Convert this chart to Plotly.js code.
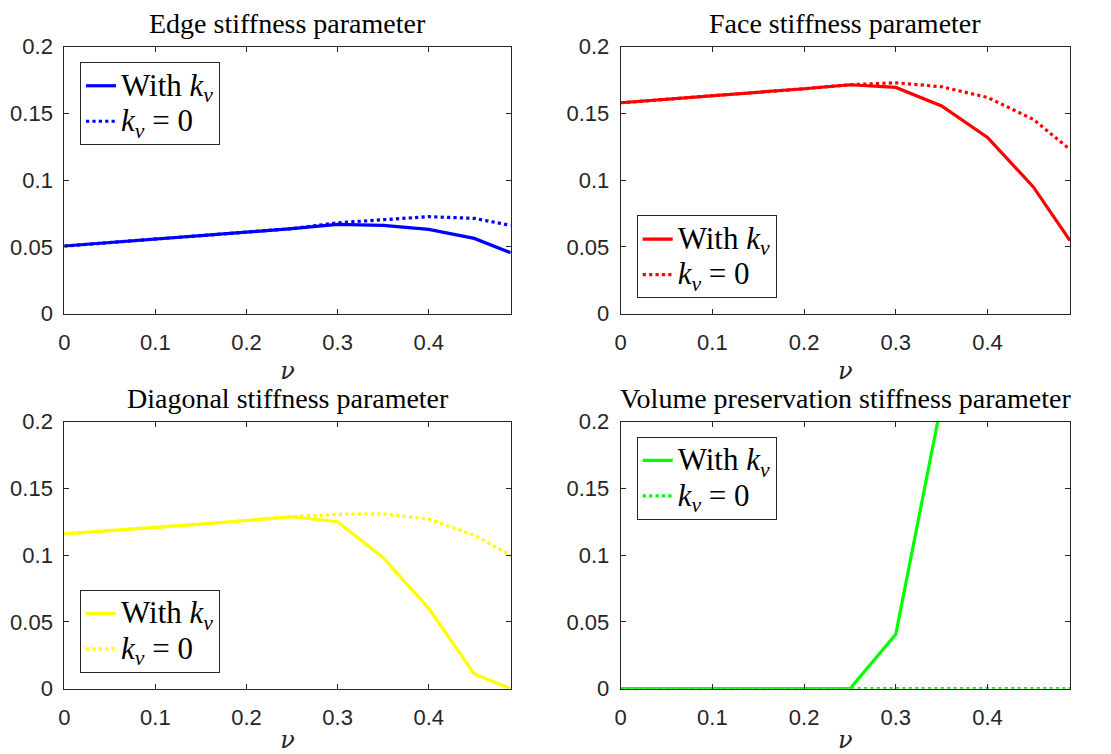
<!DOCTYPE html>
<html><head><meta charset="utf-8">
<script src="https://cdn.plot.ly/plotly-3.0.1.min.js"></script>
<style>html,body{margin:0;padding:0;background:#fff}</style>
</head><body>
<div id="chart" style="width:1111px;height:754px"></div>
<script>
// Poisson ratio samples
const nu = [0, 0.05, 0.1, 0.15, 0.2, 0.25, 0.3, 0.35, 0.4, 0.45, 0.49];

// Edge stiffness parameter
const edgeWithKv = [0.0507, 0.0532, 0.0557, 0.0582, 0.0607, 0.0637, 0.0669, 0.0662, 0.0632, 0.0564, 0.0457];
const edgeKv0    = [0.0507, 0.0532, 0.0557, 0.0582, 0.0607, 0.0637, 0.0681, 0.0705, 0.0727, 0.0714, 0.0662];

// Face stiffness parameter
const faceWithKv = [0.158, 0.1605, 0.163, 0.1657, 0.1685, 0.1715, 0.1695, 0.1556, 0.132, 0.095, 0.0547];
const faceKv0    = [0.158, 0.1605, 0.163, 0.1657, 0.1685, 0.1715, 0.173, 0.170, 0.162, 0.1456, 0.123];

// Diagonal stiffness parameter
const diagWithKv = [0.1159, 0.1182, 0.1206, 0.1233, 0.126, 0.1288, 0.1251, 0.0981, 0.0602, 0.011, 0];
const diagKv0    = [0.1159, 0.1182, 0.1206, 0.1233, 0.126, 0.1288, 0.1306, 0.131, 0.127, 0.115, 0.100];

// Volume preservation stiffness parameter (values beyond 0.35 are off-chart)
const volWithKv = [0, 0, 0, 0, 0, 0, 0.0407, 0.215, null, null, null];
const volKv0    = [0, 0, 0, 0, 0, 0, 0, 0, 0, 0, 0];

const panelTitles = ['Edge stiffness parameter', 'Face stiffness parameter',
                     'Diagonal stiffness parameter', 'Volume preservation stiffness parameter'];
const legendNames = ['With <i>k</i><sub><i>v</i></sub>', '<i>k</i><sub><i>v</i></sub> = 0'];
const xTitle = '<i>ν</i>';

const W = 1111, H = 754;
const px = v => v / W, py = v => 1 - v / H;
const bigText = s => '<span style="font-size:31px">' + s + '</span>';

const panels = [
  {withKv: edgeWithKv, kv0: edgeKv0, color: '#0000FF', ax: '',  leg: 'legend',  box: [64.3, 510.7, 46.7, 313.7]},
  {withKv: faceWithKv, kv0: faceKv0, color: '#FF0000', ax: '2', leg: 'legend2', box: [620.7, 1070, 46.7, 313.7]},
  {withKv: diagWithKv, kv0: diagKv0, color: '#FFFF00', ax: '3', leg: 'legend3', box: [64.3, 510.7, 421.7, 688.7]},
  {withKv: volWithKv,  kv0: volKv0,  color: '#00FF00', ax: '4', leg: 'legend4', box: [620.7, 1070, 421.7, 688.7]}
];

const traces = [];
panels.forEach(p => {
  traces.push({x: nu, y: p.withKv, type: 'scatter', mode: 'lines', name: bigText(legendNames[0]),
    xaxis: 'x' + p.ax, yaxis: 'y' + p.ax, legend: p.leg,
    line: {color: p.color, width: 3.2, dash: 'solid'}});
  traces.push({x: nu, y: p.kv0, type: 'scatter', mode: 'lines', name: bigText(legendNames[1]),
    xaxis: 'x' + p.ax, yaxis: 'y' + p.ax, legend: p.leg,
    line: {color: p.color, width: 3.2, dash: 'dot'}});
});

function baseAxis() {
  return {showline: true, linecolor: '#262626', linewidth: 1, mirror: 'allticks',
    ticks: 'inside', ticklen: 5, tickwidth: 1, tickcolor: '#262626',
    tickfont: {family: 'Liberation Sans, Arial, sans-serif', size: 22, color: '#262626'},
    showgrid: false, zeroline: false, fixedrange: true};
}

const layout = {
  width: W, height: H, margin: {l: 0, r: 0, t: 0, b: 0},
  paper_bgcolor: '#fff', plot_bgcolor: '#fff', showlegend: true,
  annotations: []
};

const legendFont = {family: 'Liberation Serif, Times New Roman, serif', size: 25, color: '#000'};
const legendPos = [
  {x: px(80), y: py(62), yanchor: 'top'},
  {x: px(636.7), y: py(298.3), yanchor: 'bottom'},
  {x: px(80), y: py(672.7), yanchor: 'bottom'},
  {x: px(636.7), y: py(436.7), yanchor: 'top'}
];

panels.forEach((p, i) => {
  const [l, r, t, b] = p.box;
  const xa = baseAxis();
  Object.assign(xa, {domain: [px(l), px(r)], range: [0, 0.49], tick0: 0, dtick: 0.1,
    anchor: 'y' + p.ax, ticklabelstandoff: 9,
    title: {text: xTitle, font: {family: 'DejaVu Serif, Liberation Serif, serif', size: 24, color: '#262626'}, standoff: 8}});
  const ya = baseAxis();
  Object.assign(ya, {domain: [py(b), py(t)], range: [0, 0.2], tick0: 0, dtick: 0.05,
    anchor: 'x' + p.ax, ticklabelstandoff: 6});
  layout['xaxis' + p.ax] = xa;
  layout['yaxis' + p.ax] = ya;
  layout[p.leg] = Object.assign({xref: 'paper', yref: 'paper', xanchor: 'left',
    bgcolor: '#fff', bordercolor: '#262626', borderwidth: 1, font: legendFont,
    tracegroupgap: 0, itemclick: false, itemdoubleclick: false}, legendPos[i]);
  layout.annotations.push({xref: 'paper', yref: 'paper', x: px((l + r) / 2), y: py(t - 23),
    xanchor: 'center', yanchor: 'middle', showarrow: false, text: panelTitles[i],
    font: {family: 'Liberation Serif, Times New Roman, serif', size: 28, color: '#000'}});
});

Plotly.newPlot('chart', traces, layout, {displayModeBar: false, staticPlot: true});
</script>
</body></html>
